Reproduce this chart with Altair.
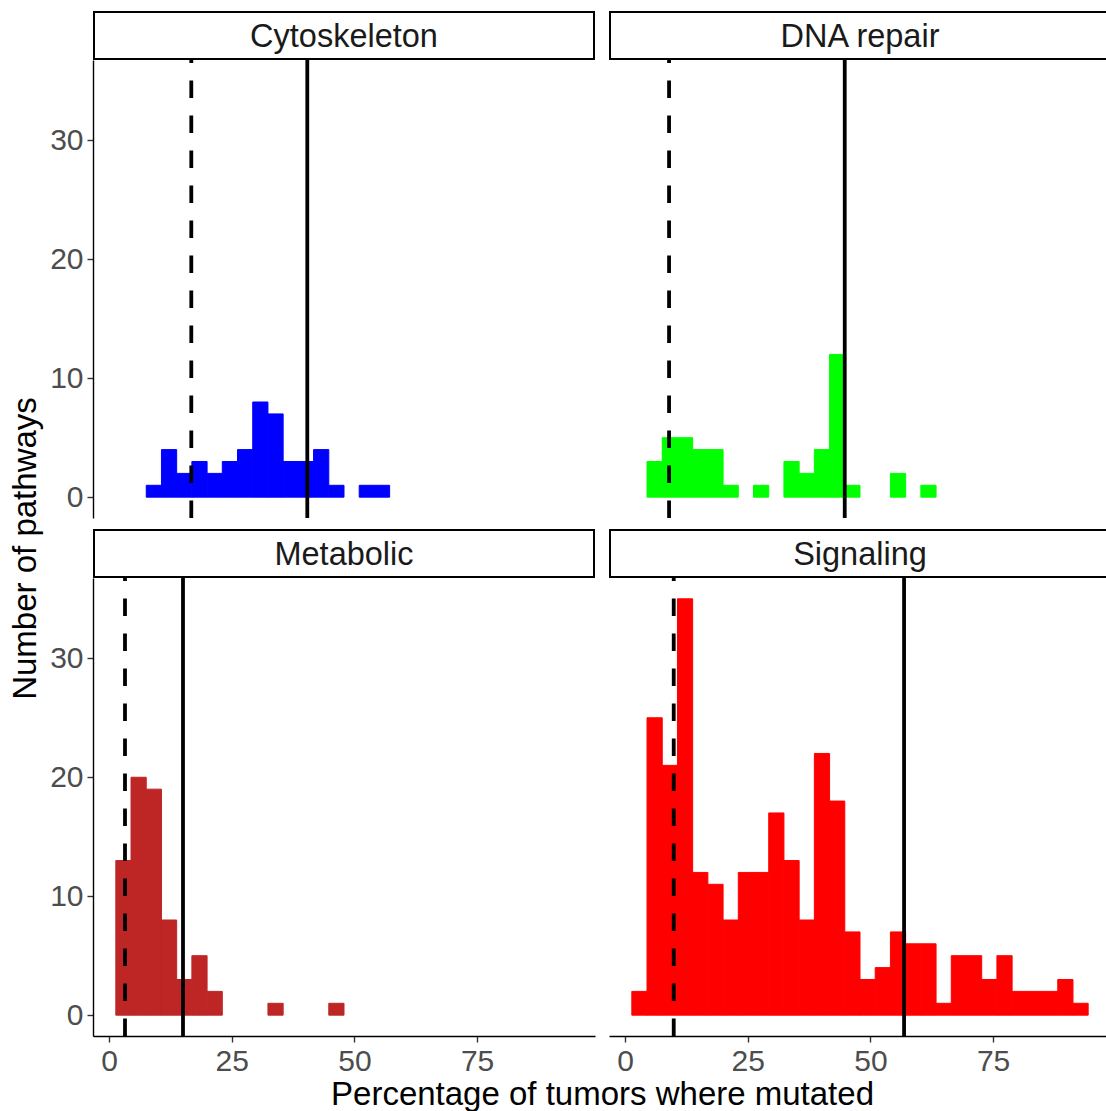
import altair as alt
import pandas as pd

# ---------------- data ----------------
CATEGORIES = ["Cytoskeleton", "DNA repair", "Metabolic", "Signaling"]
COLORS = ["#0000FF", "#00FF00", "#BE2626", "#FF0000"]

# histogram: 30 bins starting at BIN_START, width BIN_WIDTH
BIN_START = 1.38
BIN_WIDTH = 3.1

COUNTS_CYTOSKELETON = [0, 0, 1, 4, 2, 3, 2, 3, 4, 8, 7, 3, 3, 4, 1, 0, 1, 1, 0, 0,
                       0, 0, 0, 0, 0, 0, 0, 0, 0, 0]
COUNTS_DNA_REPAIR = [0, 3, 5, 5, 4, 4, 1, 0, 1, 0, 3, 2, 4, 12, 1, 0, 0, 2, 0, 1,
                     0, 0, 0, 0, 0, 0, 0, 0, 0, 0]
COUNTS_METABOLIC = [13, 20, 19, 8, 3, 5, 2, 0, 0, 0, 1, 0, 0, 0, 1, 0, 0, 0, 0, 0,
                    0, 0, 0, 0, 0, 0, 0, 0, 0, 0]
COUNTS_SIGNALING = [2, 25, 21, 35, 12, 11, 8, 12, 12, 17, 13, 8, 22, 18, 7, 3, 4, 7, 6, 6,
                    1, 5, 5, 3, 5, 2, 2, 2, 3, 1]
COUNTS = [COUNTS_CYTOSKELETON, COUNTS_DNA_REPAIR, COUNTS_METABOLIC, COUNTS_SIGNALING]

MEDIAN_DASHED = [16.76, 8.97, 3.25, 9.92]
MEAN_SOLID = [40.4, 44.77, 15.07, 56.86]

X_TICKS = [0, 25, 50, 75]
Y_TICKS = [0, 10, 20, 30]
X_TITLE = "Percentage of tumors where mutated"
Y_TITLE = "Number of pathways"

# ---------------- layout ----------------
FONT = "Liberation Sans"
W_LEFT, W_RIGHT = 502, 497
COL_GAP = 14
H_PANEL = 458
H_STRIP = 60
X_MIN = -3.27
X_MAX_LEFT = 99.03
X_MAX_RIGHT = X_MIN + (X_MAX_LEFT - X_MIN) * W_RIGHT / W_LEFT
Y_DOMAIN = [-1.75, 36.75]

AXIS_STYLE = dict(
    grid=False, domainColor="black", domainWidth=1.4, tickColor="#333333",
    tickWidth=1.4, tickSize=6, labelFont=FONT, labelFontSize=30,
    labelColor="#4D4D4D", titleFont=FONT, titleFontSize=33, titleColor="black",
    titleFontWeight="normal",
)


def strip(name, width, right):
    df = pd.DataFrame({"name": [name]})
    base = alt.Chart(df).properties(width=width, height=H_STRIP)
    rect = base.mark_rect(fill="white", stroke="black", strokeWidth=2, clip=True).encode(
        x=alt.value(1), x2=alt.value(width + 20 if right else width - 1),
        y=alt.value(12), y2=alt.value(H_STRIP - 1),
    )
    text = base.mark_text(font=FONT, fontSize=32.5, color="#1A1A1A", baseline="middle").encode(
        text="name:N", x=alt.value(251), y=alt.value(37),
    )
    return alt.layer(rect, text)


def panel(i, col, row):
    width = W_LEFT if col == 0 else W_RIGHT
    xmax = X_MAX_LEFT if col == 0 else X_MAX_RIGHT
    xscale = alt.Scale(domain=[X_MIN, xmax], nice=False, zero=False)
    yscale = alt.Scale(domain=Y_DOMAIN, nice=False, zero=False)

    counts = COUNTS[i]
    df = pd.DataFrame({
        "x0": [BIN_START + k * BIN_WIDTH for k in range(len(counts))],
        "x1": [BIN_START + (k + 1) * BIN_WIDTH for k in range(len(counts))],
        "count": counts,
    })
    df = df[df["count"] > 0]

    if row == 1:
        xaxis = alt.Axis(values=X_TICKS, labelPadding=4,
                         title=X_TITLE if col == 0 else None,
                         **({"titleX": (W_LEFT + COL_GAP + W_LEFT) / 2, "titleY": 42} if col == 0 else {}),
                         **AXIS_STYLE)
    else:
        xaxis = None
    if col == 0:
        yaxis = alt.Axis(values=Y_TICKS, labelPadding=4,
                         title=Y_TITLE if row == 1 else None,
                         **({"titleX": -51, "titleY": -30} if row == 1 else {}),
                         **AXIS_STYLE)
    else:
        yaxis = None

    bars = alt.Chart(df).mark_rect(color=COLORS[i], stroke=COLORS[i], strokeWidth=1).encode(
        x=alt.X("x0:Q", scale=xscale, axis=xaxis),
        x2="x1:Q",
        y=alt.Y("count:Q", scale=yscale, axis=yaxis),
        y2=alt.datum(0),
    )
    ldf = pd.DataFrame({"dashed": [MEDIAN_DASHED[i]], "solid": [MEAN_SOLID[i]]})
    dashed = alt.Chart(ldf).mark_rule(color="black", strokeWidth=3.8,
                                      strokeDash=[17.5, 17.5]).encode(
        x=alt.X("dashed:Q", scale=xscale), y=alt.value(H_PANEL), y2=alt.value(0))
    solid = alt.Chart(ldf).mark_rule(color="black", strokeWidth=3.8).encode(
        x=alt.X("solid:Q", scale=xscale), y=alt.value(H_PANEL), y2=alt.value(0))
    return alt.layer(bars, dashed, solid).properties(width=width, height=H_PANEL)


cells = [
    strip(CATEGORIES[0], W_LEFT, False), strip(CATEGORIES[1], W_RIGHT, True),
    panel(0, 0, 0), panel(1, 1, 0),
    strip(CATEGORIES[2], W_LEFT, False), strip(CATEGORIES[3], W_RIGHT, True),
    panel(2, 0, 1), panel(3, 1, 1),
]

chart = alt.concat(*cells, columns=2, spacing={"row": 0, "column": COL_GAP},
                   bounds="flush").properties(
    padding={"left": 8, "top": 0, "right": 0, "bottom": 0},
    background="white",
).configure_view(stroke=None)

chart.save("out.html", embed_options={"renderer": "svg", "actions": False})
